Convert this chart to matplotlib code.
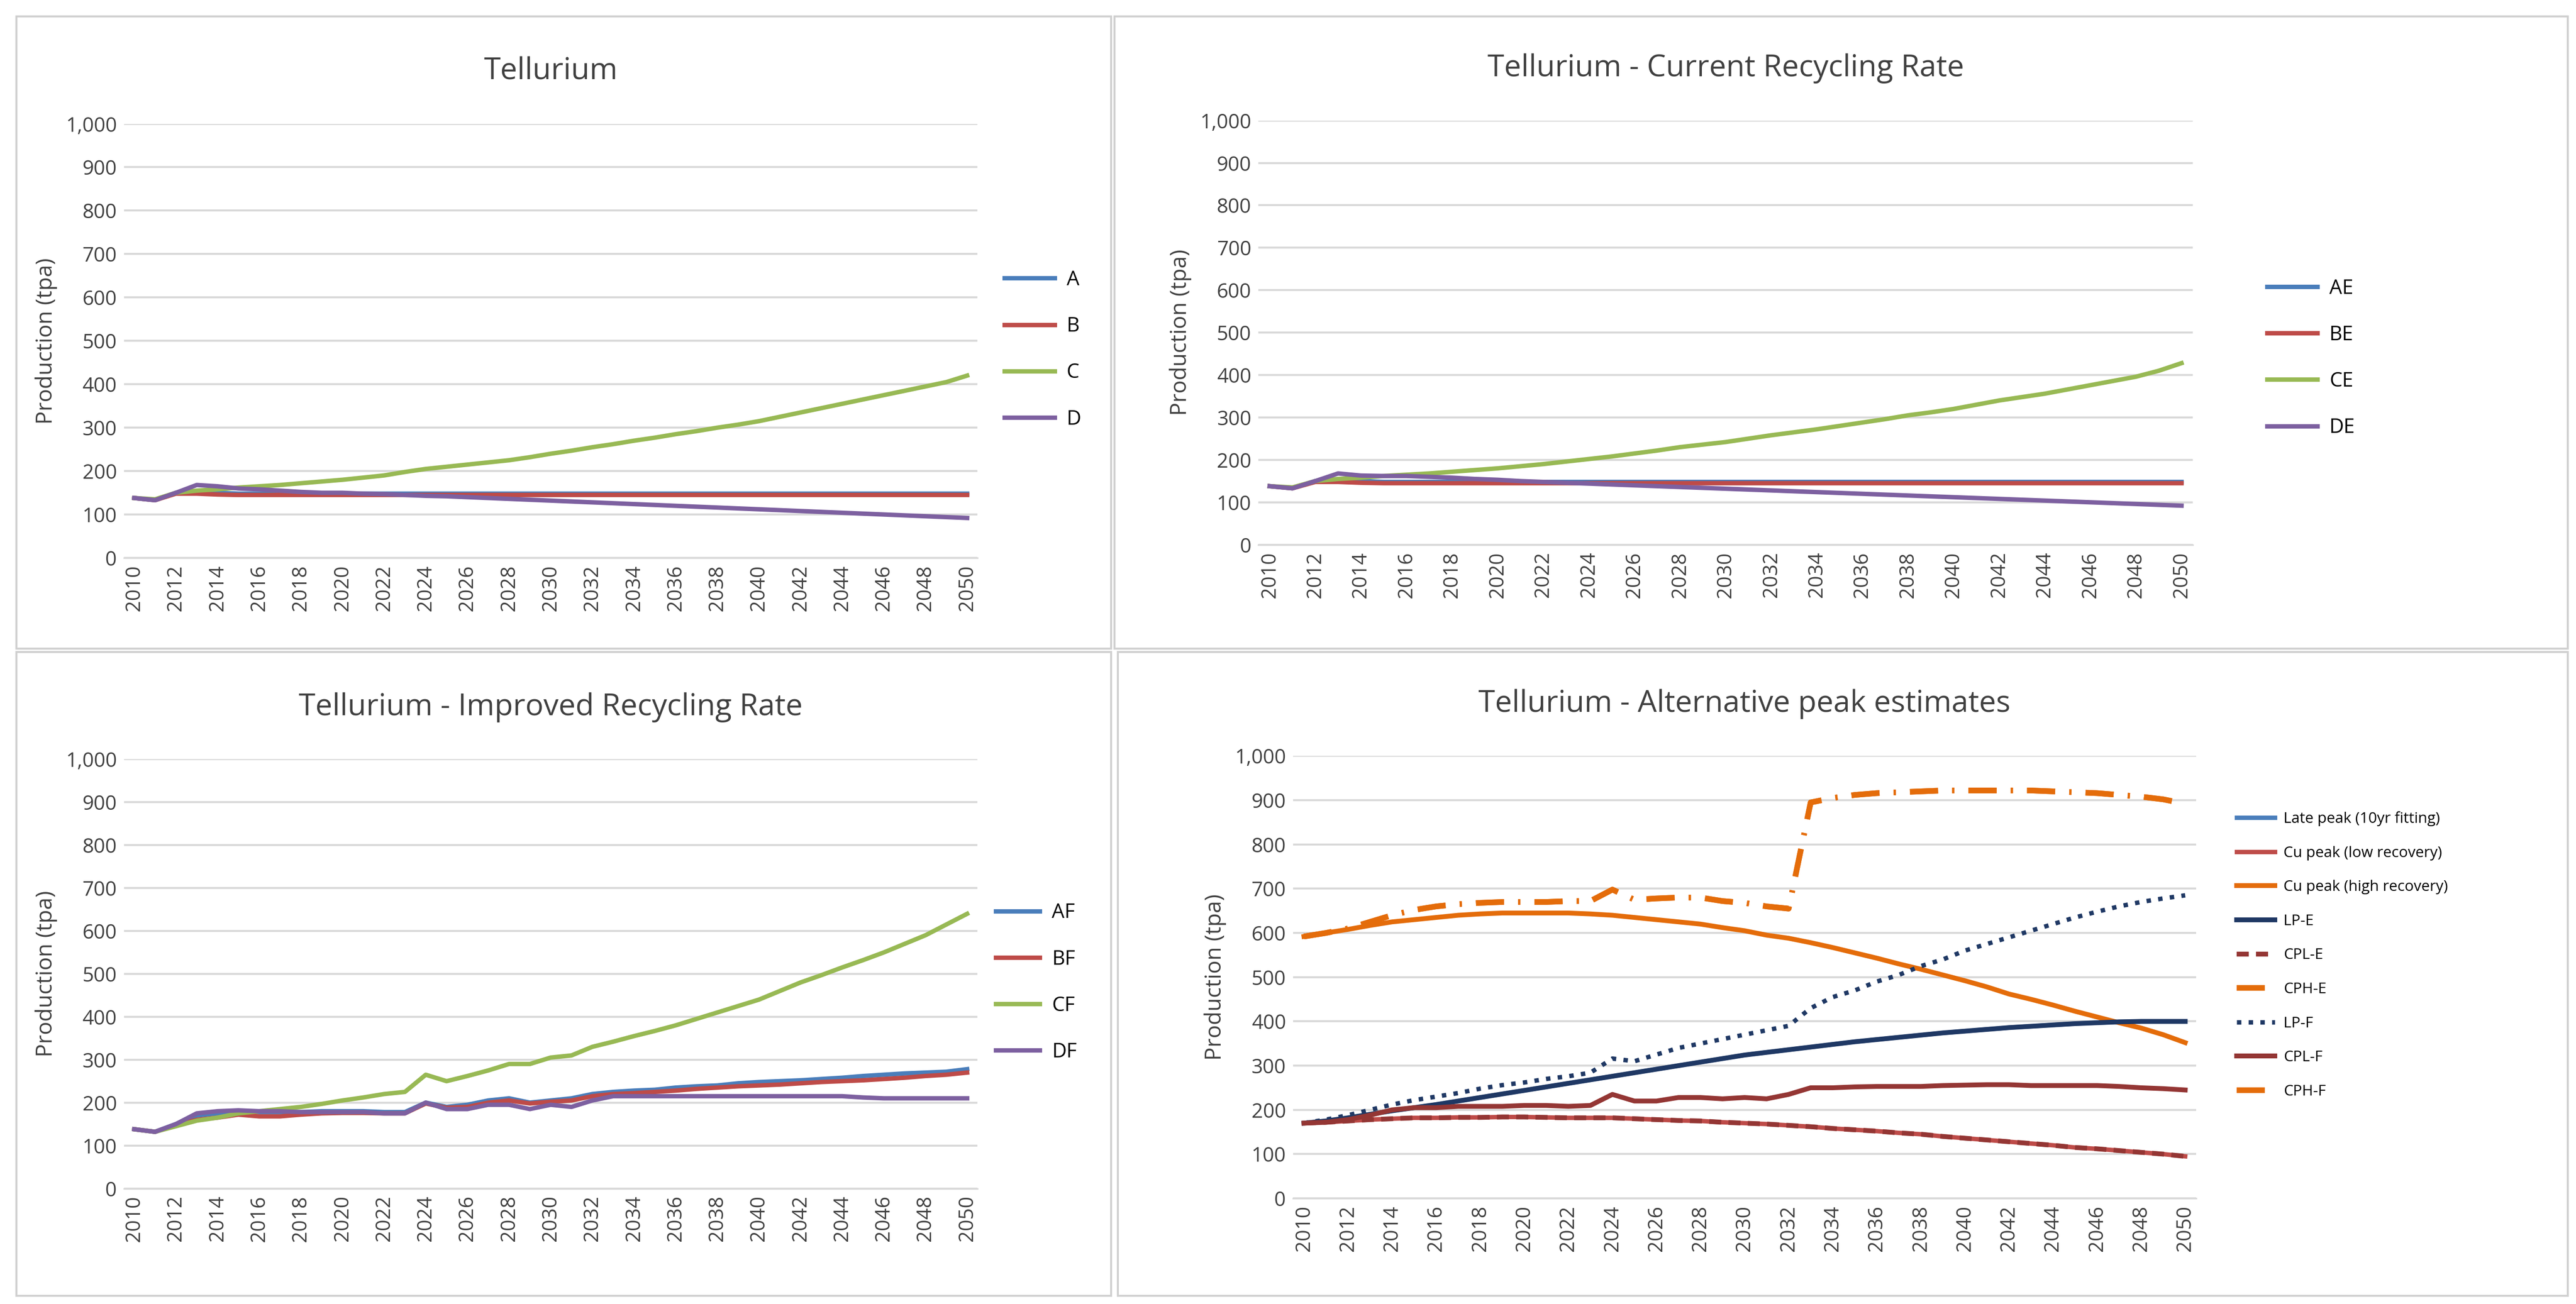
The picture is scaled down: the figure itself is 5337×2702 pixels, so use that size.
import matplotlib.pyplot as plt
from matplotlib.patches import Rectangle
from matplotlib.ticker import FuncFormatter

plt.rcParams['font.family'] = ['Open Sans', 'DejaVu Sans']
plt.rcParams['font.size'] = 10

years = list(range(2010, 2051))

# Panel 1
A = [138, 133, 150, 152, 150, 148, 148, 148, 148, 148, 148, 148, 148, 148, 148, 148, 148, 148, 148, 148, 148,
     148, 148, 148, 148, 148, 148, 148, 148, 148, 148, 148, 148, 148, 148, 148, 148, 148, 148, 148, 148]
B = [138, 133, 148, 148, 146, 145, 145, 145, 145, 145, 145, 145, 145, 145, 145, 145, 145, 145, 145, 145, 145,
     145, 145, 145, 145, 145, 145, 145, 145, 145, 145, 145, 145, 145, 145, 145, 145, 145, 145, 145, 145]
C = [138, 135, 150, 155, 158, 162, 165, 168, 172, 176, 180, 185, 190, 198, 205, 210, 215, 220, 225, 232, 240,
     247, 255, 262, 270, 277, 285, 292, 300, 307, 315, 325, 335, 345, 355, 365, 375, 385, 395, 405, 420]
D = [138, 133, 150, 168, 165, 160, 158, 155, 152, 150, 150, 148, 147, 145, 143, 142, 140, 138, 136, 134, 132,
     130, 128, 126, 124, 122, 120, 118, 116, 114, 112, 110, 108, 106, 104, 102, 100, 98, 96, 94, 92]

# Panel 2
AE = A
BE = B
CE = [138, 135, 150, 155, 158, 162, 165, 168, 172, 176, 180, 185, 190, 196, 202, 208, 215, 222, 230, 236, 242,
     250, 258, 265, 272, 280, 288, 296, 305, 312, 320, 330, 340, 348, 356, 366, 376, 386, 396, 410, 428]
DE = [138, 133, 150, 168, 163, 162, 162, 160, 158, 155, 153, 150, 148, 146, 144, 142, 140, 138, 136, 134, 132,
      130, 128, 126, 124, 122, 120, 118, 116, 114, 112, 110, 108, 106, 104, 102, 100, 98, 96, 94, 92]

# Panel 3
AF = [138, 132, 150, 170, 175, 180, 178, 178, 178, 180, 180, 180, 178, 178, 200, 190, 195, 205, 210, 200, 205,
      210, 220, 225, 228, 230, 235, 238, 240, 245, 248, 250, 252, 255, 258, 262, 265, 268, 270, 272, 278]
BF = [138, 132, 148, 160, 165, 172, 168, 168, 172, 175, 176, 176, 175, 175, 198, 188, 190, 200, 205, 198, 202,
      205, 215, 220, 222, 225, 228, 232, 235, 238, 240, 242, 245, 248, 250, 252, 255, 258, 262, 265, 270]
CF = [138, 132, 145, 158, 165, 175, 180, 185, 190, 197, 205, 212, 220, 225, 265, 250, 262, 275, 290, 290, 305,
      310, 330, 342, 355, 367, 380, 395, 410, 425, 440, 460, 480, 497, 515, 532, 550, 570, 590, 615, 640]
DF = [138, 132, 150, 175, 180, 182, 180, 180, 178, 178, 178, 178, 175, 175, 200, 185, 185, 195, 195, 185, 195,
      190, 205, 215, 215, 215, 215, 215, 215, 215, 215, 215, 215, 215, 215, 212, 210, 210, 210, 210, 210]

# Panel 4
LPE = [170, 175, 182, 190, 198, 205, 212, 220, 228, 236, 244, 252, 260, 268, 276, 284, 292, 300, 308, 316, 324,
       330, 336, 342, 348, 354, 359, 364, 369, 374, 378, 382, 386, 389, 392, 395, 397, 399, 400, 400, 400]
LPF = [170, 178, 188, 200, 212, 222, 230, 238, 248, 256, 262, 270, 276, 284, 316, 310, 325, 340, 350, 360, 370,
       380, 390, 430, 455, 470, 490, 505, 525, 540, 560, 575, 590, 605, 620, 635, 648, 660, 670, 678, 685]
CPLE = [170, 172, 175, 178, 180, 182, 182, 183, 183, 184, 184, 183, 182, 182, 182, 180, 178, 176, 175, 172, 170,
        168, 165, 162, 158, 155, 152, 148, 145, 140, 136, 132, 128, 124, 120, 115, 112, 108, 104, 100, 95]
CPLF = [170, 172, 178, 188, 200, 205, 205, 208, 208, 208, 210, 210, 208, 210, 235, 220, 220, 228, 228, 225, 228,
        225, 235, 250, 250, 252, 253, 253, 253, 255, 256, 257, 257, 255, 255, 255, 255, 253, 250, 248, 245]
CU_HIGH = [592, 600, 608, 617, 625, 630, 635, 640, 643, 645, 645, 645, 645, 643, 640, 635, 630, 625, 620, 612, 605,
           595, 588, 578, 567, 555, 543, 530, 518, 505, 492, 478, 462, 450, 437, 423, 410, 397, 385, 370, 352]
CPH = [592, 600, 610, 625, 640, 652, 660, 665, 668, 670, 670, 670, 672, 672, 698, 675, 678, 680, 680, 672, 668,
       660, 655, 895, 905, 912, 916, 918, 920, 922, 922, 922, 922, 922, 920, 918, 916, 912, 908, 902, 892]
LATE = LPE
CU_LOW = CPLE

blue, red, green, purple = '#4a7ebb', '#be4b48', '#98b954', '#7d60a0'
orange, navy, dred = '#e46c0a', '#1f3864', '#943634'

fig = plt.figure(figsize=(5337 / 300, 2702 / 300), dpi=300)
W, H = 1560, 790


def box(x0, y0, x1, y1):
    fig.patches.append(Rectangle((x0 / W, 1 - y1 / H), (x1 - x0) / W, (y1 - y0) / H,
                                 transform=fig.transFigure, fill=False, edgecolor='#d0d0d0', lw=1))


def panel(rect, title, series, legend_pos, lfs=10, hl=2.5):
    x0, x1, ytop, ybot = rect
    ax = fig.add_axes([x0 / W, 1 - ybot / H, (x1 - x0) / W, (ybot - ytop) / H])
    for label, vals, col, ls, lw in series:
        ax.plot(years, vals, color=col, ls=ls, lw=lw, label=label)
    ax.set_ylim(0, 1000)
    ax.set_yticks(range(0, 1001, 100))
    ax.yaxis.set_major_formatter(FuncFormatter(lambda v, p: f'{int(v):,}'))
    ax.set_xlim(2009.5, 2050.5)
    ax.set_xticks(years[::2])
    ax.tick_params(axis='x', rotation=90, length=0, colors='#404040')
    ax.tick_params(axis='y', length=0, colors='#404040')
    ax.grid(axis='y', color='#d9d9d9', lw=1)
    ax.set_axisbelow(True)
    for s in ['top', 'right', 'left']:
        ax.spines[s].set_visible(False)
    ax.spines['bottom'].set_color('#d9d9d9')
    ax.set_ylabel('Production (tpa)', color='#404040', fontsize=11)
    ax.set_title(title, fontsize=15, color='#404040', pad=22)
    ax.legend(loc='center left', bbox_to_anchor=legend_pos, frameon=False, fontsize=lfs,
              labelspacing=1.3, handlelength=hl, handletextpad=0.6)
    return ax


box(10, 10, 673, 393)
box(675, 10, 1555, 393)
box(10, 395, 673, 785)
box(677, 395, 1555, 785)

panel((75, 592, 75, 338), 'Tellurium',
      [('A', A, blue, '-', 2.2), ('B', B, red, '-', 2.2), ('C', C, green, '-', 2.2), ('D', D, purple, '-', 2.2)],
      (1.01, 0.48))
panel((762, 1328, 73, 330), 'Tellurium - Current Recycling Rate',
      [('AE', AE, blue, '-', 2.2), ('BE', BE, red, '-', 2.2), ('CE', CE, green, '-', 2.2),
       ('DE', DE, purple, '-', 2.2)],
      (1.06, 0.44))
panel((75, 592, 460, 720), 'Tellurium - Improved Recycling Rate',
      [('AF', AF, blue, '-', 2.2), ('BF', BF, red, '-', 2.2), ('CF', CF, green, '-', 2.2),
       ('DF', DF, purple, '-', 2.2)],
      (1.0, 0.48), hl=2.2)
dashdot = (0, (5, 2.5, 0.4, 2.5))
panel((783, 1330, 458, 726), 'Tellurium - Alternative peak estimates',
      [('Late peak (10yr fitting)', LATE, blue, '-', 2.2),
       ('Cu peak (low recovery)', CU_LOW, red, '-', 2.2),
       ('Cu peak (high recovery)', CU_HIGH, orange, '-', 2.4),
       ('LP-E', LPE, navy, '-', 2.4),
       ('CPL-E', CPLE, dred, (0, (2.5, 1.5)), 2.4),
       ('CPH-E', CPH, orange, dashdot, 2.8),
       ('LP-F', LPF, navy, ':', 2.2),
       ('CPL-F', CPLF, dred, '-', 2.4),
       ('CPH-F', CPH, orange, dashdot, 2.8)],
      (1.03, 0.55), lfs=7.5)

fig.savefig('out.png', dpi=300, facecolor='white')
